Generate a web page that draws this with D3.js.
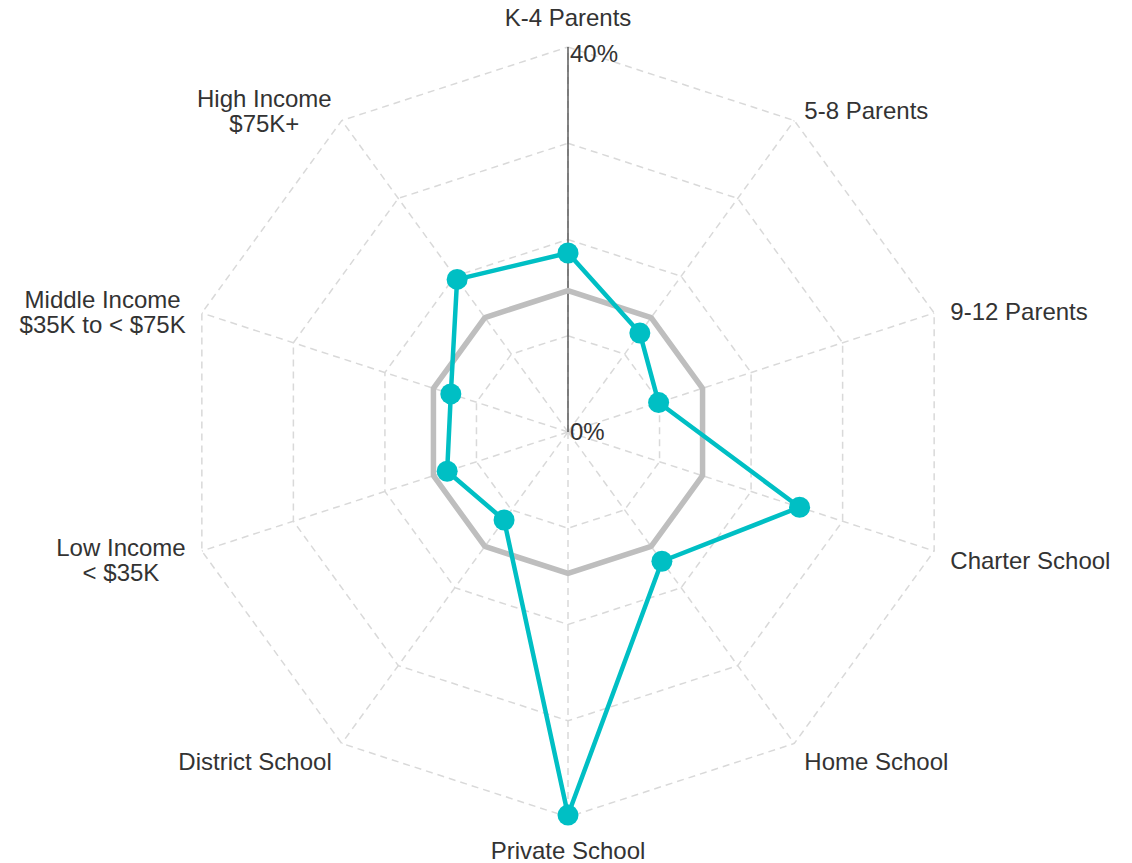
<!DOCTYPE html>
<html>
<head>
<meta charset="utf-8">
<script src="https://cdn.jsdelivr.net/npm/d3@7"></script>
<style>
  body { margin: 0; background: #fff; }
  text { font-family: "Liberation Sans", Arial, sans-serif; fill: #333; }
</style>
</head>
<body>
<div id="my_dataviz"></div>
<script>

// --------------------------------------------------------
// (1) Define Variables
// --------------------------------------------------------

var rootElement = "#my_dataviz";

var categories = [
    ["K-4 Parents"],
    ["5-8 Parents"],
    ["9-12 Parents"],
    ["Charter School"],
    ["Home School"],
    ["Private School"],
    ["District School"],
    ["Low Income", "< $35K"],
    ["Middle Income", "$35K to < $75K"],
    ["High Income", "$75K+"]
]

var groupValues = [18.6, 12.7, 9.9, 25.3, 16.6, 39.8, 11.3, 13.2, 12.8, 19.6]
var averageValues = [14.7, 14.7, 14.7, 14.7, 14.7, 14.7, 14.7, 14.7, 14.7, 14.7]

var gridLevels = [10, 20, 30, 40]
var tickValues = [0, 40]
var tickLabels = ["0%", "40%"]

var svg_width = 1132
var svg_height = 863
var cx = 568
var cy = 432
var radius = 385
var labelRadius = 402


// --------------------------------------------------------
// (2) Create Radar Chart
// --------------------------------------------------------

createRadarChart()

function createRadarChart() {

    const svg = d3.select(rootElement)
                .append("svg")
                    .attr("width", svg_width)
                    .attr("height", svg_height)
                .append("g")
                    .attr("transform", `translate(${cx}, ${cy})`);

    const n = categories.length
    const angle = d3.scaleLinear().domain([0, n]).range([0, 2 * Math.PI])
    const r = d3.scaleLinear().domain([0, 40]).range([0, radius])

    const point = (i, v) => [r(v) * Math.sin(angle(i)), -r(v) * Math.cos(angle(i))]

    // (21) dashed grid rings
    const ring = d3.line().curve(d3.curveLinearClosed)
    svg.selectAll(".ring")
      .data(gridLevels)
      .join("path")
        .attr("d", lv => ring(d3.range(n).map(i => point(i, lv))))
        .attr("fill", "none")
        .attr("stroke", "#d9d9d9")
        .attr("stroke-width", 1.5)
        .attr("stroke-dasharray", "7,5")

    // (22) dashed spokes
    svg.selectAll(".spoke")
      .data(d3.range(n))
      .join("line")
        .attr("x1", 0).attr("y1", 0)
        .attr("x2", i => point(i, 40)[0])
        .attr("y2", i => point(i, 40)[1])
        .attr("stroke", "#d9d9d9")
        .attr("stroke-width", 1.5)
        .attr("stroke-dasharray", "7,5")

    // (23) solid vertical axis with tick labels
    svg.append("line")
        .attr("x1", 0).attr("y1", r(0))
        .attr("x2", 0).attr("y2", -r(40))
        .attr("stroke", "#444")
        .attr("stroke-width", 1.3)

    svg.selectAll(".tick")
      .data(tickValues)
      .join("text")
        .attr("x", 2)
        .attr("y", v => -r(v))
        .attr("dy", (v, i) => i == 0 ? "0.35em" : "0.62em")
        .attr("font-size", 24)
        .text((v, i) => tickLabels[i])

    // (24) series polygons
    const poly = d3.line().curve(d3.curveLinearClosed)

    svg.append("path")
        .attr("d", poly(averageValues.map((v, i) => point(i, v))))
        .attr("fill", "none")
        .attr("stroke", "#bebebe")
        .attr("stroke-width", 5.5)
        .attr("stroke-linejoin", "round")

    svg.append("path")
        .attr("d", poly(groupValues.map((v, i) => point(i, v))))
        .attr("fill", "none")
        .attr("stroke", "#00BFC4")
        .attr("stroke-width", 4.5)
        .attr("stroke-linejoin", "round")

    svg.selectAll(".dot")
      .data(groupValues)
      .join("circle")
        .attr("cx", (v, i) => point(i, v)[0])
        .attr("cy", (v, i) => point(i, v)[1])
        .attr("r", 10.5)
        .attr("fill", "#00BFC4")

    // (25) axis labels
    const labels = svg.selectAll(".label")
      .data(categories)
      .join("g")

    labels.each(function(lines, i) {
        const g = d3.select(this)
        const t = g.append("text").attr("font-size", 24).attr("text-anchor", "middle")
        lines.forEach((s, k) => t.append("tspan").attr("x", 0).attr("dy", k == 0 ? 0 : 25).text(s))

        const box = t.node().getBBox()
        const a = angle(i)
        const sx = Math.sin(a), cy_ = Math.cos(a)
        let x = labelRadius * sx, y = -labelRadius * cy_
        let tx, ty
        if (sx > 0.1) tx = x - box.x
        else if (sx < -0.1) tx = x - (box.x + box.width)
        else tx = 0
        if (Math.abs(sx) > 0.1) ty = y - (box.y + box.height / 2) + 4
        else if (cy_ > 0) ty = -r(40) - 21
        else ty = r(40) + 42
        g.attr("transform", `translate(${tx}, ${ty})`)
    })
}
</script>
</body>
</html>
